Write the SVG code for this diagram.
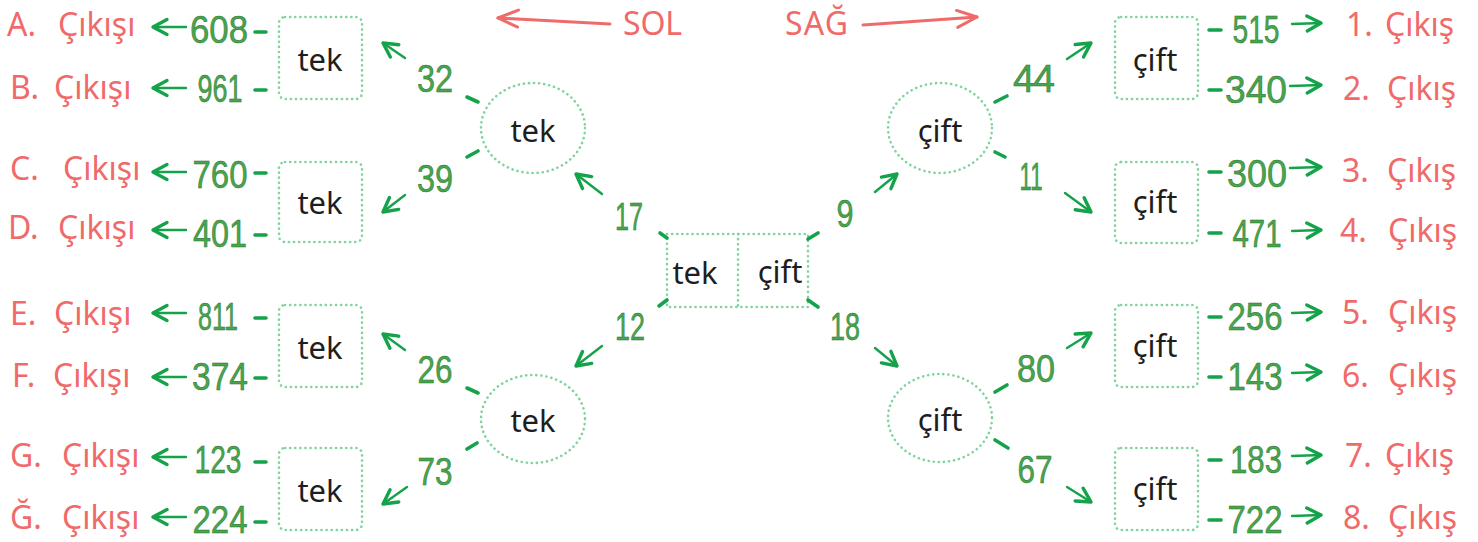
<svg xmlns="http://www.w3.org/2000/svg" width="1478" height="542" viewBox="0 0 1478 542">
<defs>
<style>
.bx{fill:none;stroke:#7fd39c;stroke-width:2.6;stroke-dasharray:0.1 5;stroke-linecap:round}
.nt{font-family:"Noto Sans","DejaVu Sans",sans-serif;font-size:31px;fill:#1e1e1e;text-anchor:middle}
.num{font-family:"Liberation Sans","Noto Sans",sans-serif;font-size:39px;fill:#46a64b;stroke:#2c6e31;stroke-width:0.5;text-anchor:middle}
.red{font-family:"Noto Sans","DejaVu Sans",sans-serif;font-size:32px;fill:#f06a6a}
.stub{stroke:#14a24b;stroke-width:3.6;stroke-linecap:round;fill:none}
.arr{stroke:#14a24b;stroke-width:2.4;stroke-linecap:round;fill:none;marker-end:url(#head)}
.rarr{stroke:#f06a6a;stroke-width:3;stroke-linecap:round;fill:none;marker-end:url(#rhead)}
</style>
<marker id="head" markerUnits="userSpaceOnUse" markerWidth="24" markerHeight="24" viewBox="-20 -12 24 24" refX="0" refY="0" orient="auto">
<path d="M-14,-7.5 L0,0 L-14,7.5" fill="none" stroke="#14a24b" stroke-width="3.4" stroke-linecap="round" stroke-linejoin="round"/>
</marker>
<marker id="rhead" markerUnits="userSpaceOnUse" markerWidth="28" markerHeight="26" viewBox="-24 -13 28 26" refX="0" refY="0" orient="auto">
<path d="M-20,-8 L0,0 L-20,9" fill="none" stroke="#f06a6a" stroke-width="3" stroke-linecap="round" stroke-linejoin="round"/>
</marker>
</defs>
<rect width="1478" height="542" fill="#ffffff"/>

<g id="direction">
<text class="red" x="623" y="35" textLength="59">SOL</text>
<line class="rarr" x1="610" y1="24" x2="498" y2="18"/>
<text class="red" x="785" y="35" textLength="63">SAĞ</text>
<line class="rarr" x1="863" y1="25" x2="977" y2="17"/>
</g>

<g id="center">
<rect class="bx" x="667" y="234" width="141" height="73"/>
<line class="bx" x1="738" y1="234" x2="738" y2="307"/>
<text class="nt" x="695" y="284">tek</text>
<text class="nt" x="780" y="283">çift</text>
</g>

<g id="circle-tek-top"><ellipse class="bx" cx="533" cy="128" rx="52" ry="45"/><text class="nt" x="533" y="142">tek</text></g>
<g id="circle-tek-bottom"><ellipse class="bx" cx="533" cy="419" rx="52" ry="44"/><text class="nt" x="533" y="432">tek</text></g>
<g id="circle-cift-top"><ellipse class="bx" cx="940" cy="128" rx="52" ry="45"/><text class="nt" x="940" y="142">çift</text></g>
<g id="circle-cift-bottom"><ellipse class="bx" cx="940" cy="418" rx="52" ry="44"/><text class="nt" x="940" y="431">çift</text></g>

<g id="box-tek-1"><rect class="bx" x="279" y="17" width="83" height="82" rx="6"/><text class="nt" x="320" y="71">tek</text></g>
<g id="box-tek-2"><rect class="bx" x="279" y="162" width="83" height="80" rx="6"/><text class="nt" x="320" y="214">tek</text></g>
<g id="box-tek-3"><rect class="bx" x="279" y="305" width="83" height="82" rx="6"/><text class="nt" x="320" y="359">tek</text></g>
<g id="box-tek-4"><rect class="bx" x="279" y="448" width="83" height="82" rx="6"/><text class="nt" x="320" y="502">tek</text></g>
<g id="box-cift-1"><rect class="bx" x="1115" y="17" width="83" height="82" rx="6"/><text class="nt" x="1155" y="71">çift</text></g>
<g id="box-cift-2"><rect class="bx" x="1115" y="162" width="83" height="81" rx="6"/><text class="nt" x="1155" y="213">çift</text></g>
<g id="box-cift-3"><rect class="bx" x="1115" y="305" width="83" height="82" rx="6"/><text class="nt" x="1155" y="357">çift</text></g>
<g id="box-cift-4"><rect class="bx" x="1115" y="448" width="83" height="82" rx="6"/><text class="nt" x="1155" y="500">çift</text></g>

<g id="outputs-left">
<text class="red" x="7" y="36">A.<tspan x="58">Çıkışı</tspan></text>
<text class="red" x="10" y="99">B.<tspan x="54">Çıkışı</tspan></text>
<text class="red" x="10" y="180">C.<tspan x="63">Çıkışı</tspan></text>
<text class="red" x="8" y="239">D.<tspan x="58">Çıkışı</tspan></text>
<text class="red" x="10" y="325">E.<tspan x="54">Çıkışı</tspan></text>
<text class="red" x="12" y="387">F.<tspan x="53">Çıkışı</tspan></text>
<text class="red" x="10" y="467">G.<tspan x="62">Çıkışı</tspan></text>
<text class="red" x="10" y="529">Ğ.<tspan x="62">Çıkışı</tspan></text>
</g>
<g id="outputs-right">
<text class="red" x="1346" y="36">1.<tspan x="1385">Çıkış</tspan></text>
<text class="red" x="1343" y="100">2.<tspan x="1387">Çıkış</tspan></text>
<text class="red" x="1342" y="182">3.<tspan x="1387">Çıkış</tspan></text>
<text class="red" x="1340" y="242">4.<tspan x="1388">Çıkış</tspan></text>
<text class="red" x="1342" y="324">5.<tspan x="1388">Çıkış</tspan></text>
<text class="red" x="1342" y="387">6.<tspan x="1388">Çıkış</tspan></text>
<text class="red" x="1345" y="467">7.<tspan x="1385">Çıkış</tspan></text>
<text class="red" x="1343" y="529">8.<tspan x="1388">Çıkış</tspan></text>
</g>

<g id="connectors">
<line class="stub" x1="660" y1="233" x2="667" y2="238"/>
<line class="arr" x1="602" y1="194" x2="576" y2="174"/>
<text class="num" x="629" y="230" textLength="28" lengthAdjust="spacingAndGlyphs">17</text>
<line class="stub" x1="659" y1="306" x2="667" y2="300"/>
<line class="arr" x1="602" y1="346" x2="576" y2="366"/>
<text class="num" x="630" y="340" textLength="30" lengthAdjust="spacingAndGlyphs">12</text>
<line class="stub" x1="808" y1="239" x2="818" y2="233"/>
<line class="arr" x1="875" y1="192" x2="897" y2="174"/>
<text class="num" x="845" y="227" textLength="17" lengthAdjust="spacingAndGlyphs">9</text>
<line class="stub" x1="808" y1="300" x2="818" y2="307"/>
<line class="arr" x1="875" y1="348" x2="897" y2="366"/>
<text class="num" x="845" y="340" textLength="30" lengthAdjust="spacingAndGlyphs">18</text>

<line class="stub" x1="467" y1="97" x2="478" y2="102"/>
<line class="arr" x1="405" y1="58" x2="383" y2="43"/>
<text class="num" x="435" y="92" textLength="36" lengthAdjust="spacingAndGlyphs">32</text>
<line class="stub" x1="467" y1="157" x2="478" y2="151"/>
<line class="arr" x1="405" y1="195" x2="383" y2="212"/>
<text class="num" x="435" y="192" textLength="36" lengthAdjust="spacingAndGlyphs">39</text>
<line class="stub" x1="467" y1="388" x2="478" y2="393"/>
<line class="arr" x1="405" y1="350" x2="383" y2="334"/>
<text class="num" x="435" y="383" textLength="35" lengthAdjust="spacingAndGlyphs">26</text>
<line class="stub" x1="467" y1="449" x2="477" y2="443"/>
<line class="arr" x1="407" y1="487" x2="383" y2="504"/>
<text class="num" x="435" y="485" textLength="35" lengthAdjust="spacingAndGlyphs">73</text>

<line class="stub" x1="995" y1="102" x2="1007" y2="96"/>
<line class="arr" x1="1067" y1="59" x2="1091" y2="43"/>
<text class="num" x="1034" y="92" textLength="42" lengthAdjust="spacing">44</text>
<line class="stub" x1="995" y1="152" x2="1005" y2="157"/>
<line class="arr" x1="1065" y1="193" x2="1091" y2="212"/>
<text class="num" x="1031" y="190" textLength="23" lengthAdjust="spacingAndGlyphs">11</text>
<line class="stub" x1="995" y1="392" x2="1007" y2="385"/>
<line class="arr" x1="1067" y1="348" x2="1091" y2="333"/>
<text class="num" x="1036" y="382" textLength="38" lengthAdjust="spacingAndGlyphs">80</text>
<line class="stub" x1="995" y1="440" x2="1008" y2="448"/>
<line class="arr" x1="1067" y1="487" x2="1091" y2="502"/>
<text class="num" x="1035" y="483" textLength="35" lengthAdjust="spacingAndGlyphs">67</text>

<line class="stub" x1="255" y1="32" x2="266" y2="32"/>
<line class="arr" x1="186" y1="27" x2="153" y2="27"/>
<text class="num" x="219" y="43" textLength="58" lengthAdjust="spacingAndGlyphs">608</text>
<line class="stub" x1="255" y1="90" x2="266" y2="90"/>
<line class="arr" x1="186" y1="88" x2="153" y2="88"/>
<text class="num" x="220" y="102" textLength="45" lengthAdjust="spacingAndGlyphs">961</text>
<line class="stub" x1="255" y1="173" x2="266" y2="173"/>
<line class="arr" x1="186" y1="172" x2="153" y2="172"/>
<text class="num" x="220" y="188" textLength="55" lengthAdjust="spacingAndGlyphs">760</text>
<line class="stub" x1="255" y1="235" x2="266" y2="235"/>
<line class="arr" x1="186" y1="230" x2="153" y2="230"/>
<text class="num" x="220" y="247" textLength="54" lengthAdjust="spacingAndGlyphs">401</text>
<line class="stub" x1="255" y1="318" x2="266" y2="318"/>
<line class="arr" x1="186" y1="313" x2="153" y2="313"/>
<text class="num" x="218" y="330" textLength="40" lengthAdjust="spacingAndGlyphs">811</text>
<line class="stub" x1="255" y1="378" x2="266" y2="378"/>
<line class="arr" x1="186" y1="377" x2="153" y2="377"/>
<text class="num" x="220" y="390" textLength="56" lengthAdjust="spacingAndGlyphs">374</text>
<line class="stub" x1="255" y1="462" x2="266" y2="462"/>
<line class="arr" x1="186" y1="457" x2="153" y2="457"/>
<text class="num" x="218" y="473" textLength="47" lengthAdjust="spacingAndGlyphs">123</text>
<line class="stub" x1="255" y1="522" x2="266" y2="522"/>
<line class="arr" x1="186" y1="517" x2="153" y2="517"/>
<text class="num" x="220" y="533" textLength="55" lengthAdjust="spacingAndGlyphs">224</text>

<line class="stub" x1="1209" y1="30" x2="1221" y2="30"/>
<line class="arr" x1="1292" y1="24" x2="1321" y2="23"/>
<text class="num" x="1256" y="43" textLength="47" lengthAdjust="spacingAndGlyphs">515</text>
<line class="stub" x1="1209" y1="90" x2="1221" y2="90"/>
<line class="arr" x1="1290" y1="86" x2="1321" y2="85"/>
<text class="num" x="1256" y="103" textLength="62" lengthAdjust="spacingAndGlyphs">340</text>
<line class="stub" x1="1209" y1="172" x2="1221" y2="172"/>
<line class="arr" x1="1290" y1="168" x2="1321" y2="167"/>
<text class="num" x="1257" y="187" textLength="60" lengthAdjust="spacingAndGlyphs">300</text>
<line class="stub" x1="1209" y1="233" x2="1221" y2="233"/>
<line class="arr" x1="1292" y1="231" x2="1321" y2="230"/>
<text class="num" x="1257" y="247" textLength="49" lengthAdjust="spacingAndGlyphs">471</text>
<line class="stub" x1="1209" y1="317" x2="1221" y2="317"/>
<line class="arr" x1="1292" y1="313" x2="1321" y2="312"/>
<text class="num" x="1255" y="330" textLength="55" lengthAdjust="spacingAndGlyphs">256</text>
<line class="stub" x1="1209" y1="377" x2="1221" y2="377"/>
<line class="arr" x1="1292" y1="373" x2="1321" y2="372"/>
<text class="num" x="1255" y="390" textLength="55" lengthAdjust="spacingAndGlyphs">143</text>
<line class="stub" x1="1209" y1="460" x2="1221" y2="460"/>
<line class="arr" x1="1292" y1="456" x2="1321" y2="455"/>
<text class="num" x="1256" y="473" textLength="52" lengthAdjust="spacingAndGlyphs">183</text>
<line class="stub" x1="1209" y1="520" x2="1221" y2="520"/>
<line class="arr" x1="1292" y1="516" x2="1321" y2="515"/>
<text class="num" x="1255" y="533" textLength="55" lengthAdjust="spacingAndGlyphs">722</text>
</g>
</svg>
